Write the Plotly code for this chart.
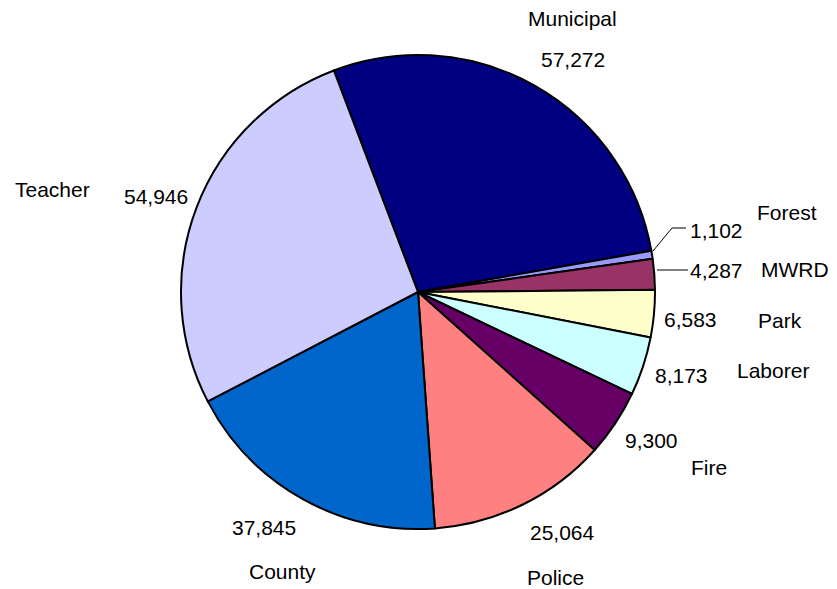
import plotly.graph_objects as go

W, H = 837, 589

categories = ["Municipal", "Forest", "MWRD", "Park", "Laborer", "Fire", "Police", "County", "Teacher"]
values = [57272, 1102, 4287, 6583, 8173, 9300, 25064, 37845, 54946]
colors = ["#000080", "#9999FF", "#993366", "#FFFFCC", "#CCFFFF", "#660066", "#FF8080", "#0066CC", "#CCCCFF"]

# label placements (pixel centers): name, value
name_pos = {"Municipal": (572, 19), "Forest": (787, 212), "MWRD": (795, 269), "Park": (780, 320),
            "Laborer": (773, 370), "Fire": (709, 468), "Police": (555, 577), "County": (282, 571),
            "Teacher": (52, 189)}
value_pos = {"Municipal": (573, 60), "Forest": (716, 230), "MWRD": (716, 270), "Park": (690, 319),
             "Laborer": (681, 375), "Fire": (651, 440), "Police": (562, 532), "County": (264, 527),
             "Teacher": (156, 196)}

cx, cy, r = 418, 292, 237

fig = go.Figure(go.Pie(
    labels=categories, values=values, sort=False, direction="clockwise", rotation=-20.8,
    marker=dict(colors=colors, line=dict(color="black", width=2)),
    textinfo="none", hoverinfo="label+value",
    domain=dict(x=[(cx - r) / W, (cx + r) / W], y=[1 - (cy + r) / H, 1 - (cy - r) / H]),
))

font = dict(family="Liberation Sans, Arial, sans-serif", size=21, color="black")
ann = []
for c, v in zip(categories, values):
    nx, ny = name_pos[c]
    vx, vy = value_pos[c]
    ann.append(dict(x=nx / W, y=1 - ny / H, xref="paper", yref="paper", text=c, showarrow=False,
                    font=font, xanchor="center", yanchor="middle"))
    ann.append(dict(x=vx / W, y=1 - vy / H, xref="paper", yref="paper", text=f"{v:,}", showarrow=False,
                    font=font, xanchor="center", yanchor="middle"))

def px(x, y):
    return x / W, 1 - y / H

shapes = []
p = [px(653, 251), px(672, 228), px(686, 228)]
shapes.append(dict(type="path", xref="paper", yref="paper",
                   path=f"M {p[0][0]} {p[0][1]} L {p[1][0]} {p[1][1]} L {p[2][0]} {p[2][1]}",
                   line=dict(color="black", width=1)))
a, b = px(657, 270), px(688, 270)
shapes.append(dict(type="line", xref="paper", yref="paper", x0=a[0], y0=a[1], x1=b[0], y1=b[1],
                   line=dict(color="black", width=1)))

fig.update_layout(width=W, height=H, margin=dict(l=0, r=0, t=0, b=0), showlegend=False,
                  paper_bgcolor="white", plot_bgcolor="white", annotations=ann, shapes=shapes)
fig.write_html("out.html", config={"displayModeBar": False},
               post_script="document.body.style.margin='0';document.body.style.overflow='hidden';")
